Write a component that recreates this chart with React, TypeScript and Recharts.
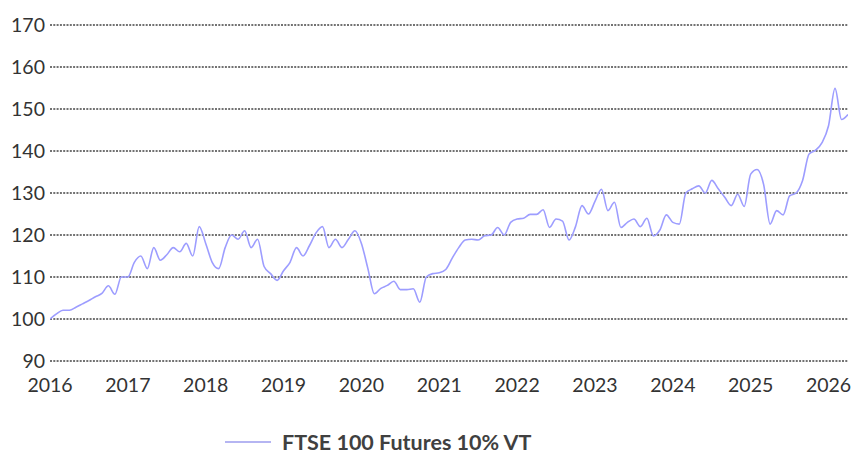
import { LineChart, Line, XAxis, YAxis, CartesianGrid, Legend } from "recharts";

const seriesName = "FTSE 100 Futures 10% VT";
const startYear = 2016;

// monthly index values, Jan 2016 .. Apr 2026
const values = [
  100, 101.2, 102.1, 102.1, 102.8, 103.6, 104.4, 105.3, 106.1, 107.9, 105.9, 110,
  110, 113.5, 115, 112, 117, 114, 115.3, 117, 116, 118, 115, 122,
  118, 113.5, 112, 117, 120, 119, 121, 117, 119, 112.5, 110.8, 109.2,
  111.5, 113.5, 117, 115, 117.5, 120.5, 122, 117, 119, 117, 119, 121,
  118, 112, 106, 107.3, 108, 109, 107, 107, 107.2, 104, 110, 110.8,
  111, 111.8, 114.5, 117, 118.8, 119, 118.8, 119.8, 120, 121.8, 120, 123,
  123.8, 124, 124.9, 124.9, 126, 121.8, 123.8, 123.3, 118.8, 122, 127, 125,
  128, 130.9, 125.8, 127.8, 121.8, 123, 123.8, 122, 124, 119.8, 121.2, 124.8,
  123, 122.6, 130, 131, 131.7, 130, 133, 131, 129, 127, 129.7, 126.8,
  134.5, 135.6, 132, 122.6, 125.8, 124.8, 129.3, 130, 133, 139.3, 140.2, 142,
  146, 154.9, 147.5, 148.7,
];

const yearTicks = [2016, 2017, 2018, 2019, 2020, 2021, 2022, 2023, 2024, 2025, 2026];
const valueTicks = [90, 100, 110, 120, 130, 140, 150, 160, 170];

const data = values.map((v, i) => ({ t: startYear + i / 12, value: v }));

const lineColor = "#9d9dff";
const tickStyle = { fill: "#333", fontSize: 19.5, fontFamily: "Lato" };

// eslint-disable-next-line @typescript-eslint/no-explicit-any
const LegendContent = ({ payload }: any) => (
  <div
    style={{
      height: 50,
      boxSizing: "border-box",
      paddingTop: 22,
      paddingLeft: 225,
      display: "flex",
      alignItems: "center",
      fontFamily: "Lato",
    }}
  >
    {(payload || []).map((p: any) => (
      <div key={p.value} style={{ display: "flex", alignItems: "center" }}>
        <div style={{ width: 46, height: 2, background: "#b5b5f2", marginRight: 11 }} />
        <span style={{ fontSize: 21.5, fontWeight: 700, color: "#404040" }}>{p.value}</span>
      </div>
    ))}
  </div>
);

export default function App() {
  return (
    <div>
      <style>{"body{margin:0}"}</style>
      <LineChart
        width={853}
        height={456}
        data={data}
        margin={{ top: 25, right: 5, left: 0, bottom: 0 }}
      >
        <CartesianGrid
          vertical={false}
          stroke="#444"
          strokeWidth={1.6}
          strokeDasharray="2 1.3"
        />
        <XAxis
          dataKey="t"
          type="number"
          domain={[2016, 2026.25]}
          ticks={yearTicks}
          tickFormatter={(v) => String(Math.round(v))}
          axisLine={false}
          tickLine={false}
          tickSize={0}
          tickMargin={17}
          height={45}
          tick={tickStyle}
          allowDataOverflow
        />
        <YAxis
          domain={[90, 170]}
          ticks={valueTicks}
          axisLine={false}
          tickLine={false}
          tickSize={0}
          tickMargin={5}
          width={50}
          tick={tickStyle}
        />
        <Legend verticalAlign="bottom" content={<LegendContent />} />
        <Line
          type="monotone"
          dataKey="value"
          name={seriesName}
          stroke={lineColor}
          strokeWidth={1.6}
          dot={false}
          isAnimationActive={false}
        />
      </LineChart>
    </div>
  );
}
